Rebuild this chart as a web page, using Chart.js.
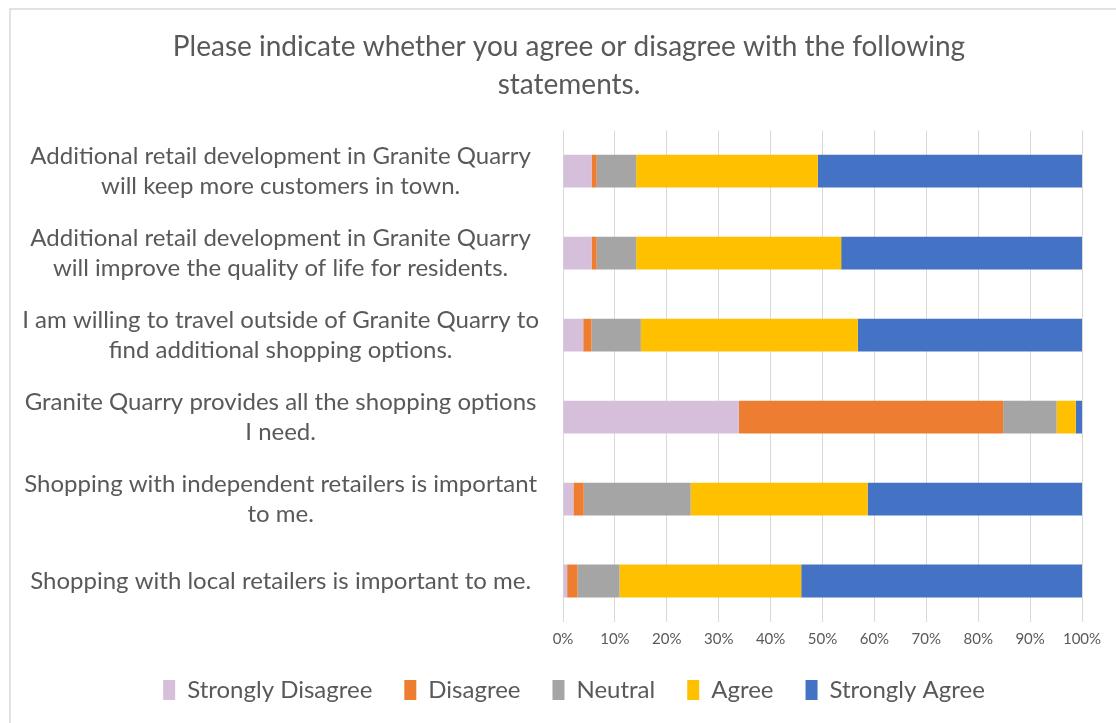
<!DOCTYPE html>
<html>
<head>
<meta charset="utf-8">
<script src="https://cdn.jsdelivr.net/npm/chart.js@4/dist/chart.umd.min.js"></script>
<style>
  html, body { margin: 0; padding: 0; background: #fff; }
  #wrap { width: 1116px; height: 723px; }
</style>
</head>
<body>
<div id="wrap"><canvas id="myChart" width="1116" height="723"></canvas></div>
<script>
// data
const statements = [
    ['Additional retail development in Granite Quarry', 'will keep more customers in town.'],
    ['Additional retail development in Granite Quarry', 'will improve the quality of life for residents.'],
    ['I am willing to travel outside of Granite Quarry to', 'find additional shopping options.'],
    ['Granite Quarry provides all the shopping options', 'I need.'],
    ['Shopping with independent retailers is important', 'to me.'],
    'Shopping with local retailers is important to me.'
];
const strongDisagree = [5.5, 5.5, 3.9, 33.9, 2.0, 0.8];
const disagree       = [1.0, 1.0, 1.6, 50.9, 2.0, 2.0];
const neutral        = [7.6, 7.6, 9.5, 10.3, 20.6, 8.1];
const agree          = [35.0, 39.5, 41.8, 3.7, 34.1, 35.0];
const strongAgree    = [50.9, 46.4, 43.2, 1.2, 41.3, 54.1];
const xTicks = [0, 10, 20, 30, 40, 50, 60, 70, 80, 90, 100];

const textColor = '#595959';
const fontFamily = 'Lato, "Open Sans", sans-serif';

function series(label, values, color) {
    return {
        label: label,
        data: values,
        backgroundColor: color,
        borderWidth: 0,
        categoryPercentage: 1,
        barPercentage: 0.4
    };
}

// frame like the Excel chart border
const framePlugin = {
    id: 'frame',
    beforeDraw(chart) {
        const ctx = chart.ctx;
        ctx.save();
        ctx.fillStyle = '#fff';
        ctx.fillRect(0, 0, chart.width, chart.height);
        ctx.strokeStyle = '#d9d9d9';
        ctx.lineWidth = 1.5;
        ctx.strokeRect(10, 9, 1300, 900);
        ctx.restore();
    }
};

// Excel centres title and legend a bit further right, and the legend sits closer to the ticks
const nudgePlugin = {
    id: 'nudge',
    afterLayout(chart) {
        const lg = chart.legend;
        lg.top -= 10;
        lg.bottom -= 10;
        lg.left += 22;
        lg.right += 22;
        const t = chart.titleBlock;
        t.left += 17;
        t.right += 17;
    }
};

const config = {
    type: 'bar',
    data: {
        labels: statements,
        datasets: [
            series('Strongly Disagree', strongDisagree, '#d5bfdb'),
            series('Disagree', disagree, '#ed7d31'),
            series('Neutral', neutral, '#a5a5a5'),
            series('Agree', agree, '#ffc000'),
            series('Strongly Agree', strongAgree, '#4472c4')
        ]
    },
    options: {
        indexAxis: 'y',
        responsive: false,
        animation: false,
        layout: { padding: { top: 10, left: 22, right: 34, bottom: 1 } },
        plugins: {
            title: {
                display: true,
                text: ['Please indicate whether you agree or disagree with the following', 'statements.'],
                color: textColor,
                font: { family: fontFamily, size: 28, weight: 'normal', lineHeight: 1.36 },
                padding: { top: 18, bottom: 26 }
            },
            legend: {
                position: 'bottom',
                labels: {
                    color: textColor,
                    font: { family: fontFamily, size: 24 },
                    boxWidth: 12,
                    boxHeight: 20,
                    padding: 32
                }
            },
            tooltip: { enabled: false }
        },
        scales: {
            x: {
                stacked: true,
                min: 0,
                max: 100,
                afterBuildTicks(scale) {
                    scale.ticks = xTicks.map(v => ({ value: v }));
                },
                ticks: {
                    color: textColor,
                    font: { family: fontFamily, size: 15 },
                    padding: 8,
                    maxRotation: 0,
                    callback: v => v + '%'
                },
                grid: { color: '#d9d9d9', drawTicks: false },
                border: { display: false }
            },
            y: {
                stacked: true,
                afterFit(scale) { scale.width = 563 - 22; },
                ticks: {
                    color: textColor,
                    font: { family: fontFamily, size: 24, lineHeight: 1.25 },
                    crossAlign: 'center',
                    padding: 24
                },
                grid: { display: false, drawTicks: false },
                border: { display: false }
            }
        }
    },
    plugins: [framePlugin, nudgePlugin]
};

const myChart = new Chart(document.getElementById('myChart'), config);
</script>
</body>
</html>
